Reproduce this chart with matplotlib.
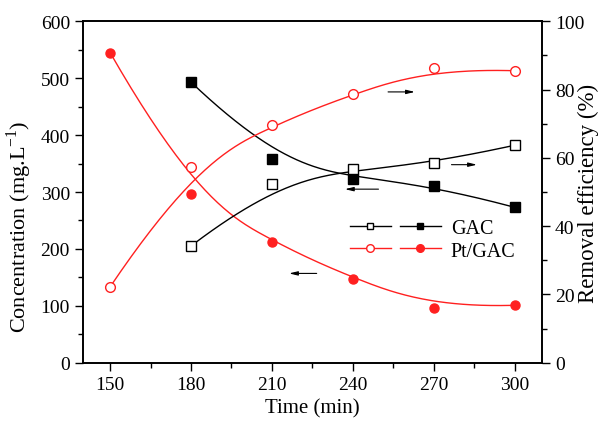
import numpy as np
import matplotlib.pyplot as plt
from matplotlib.legend_handler import HandlerTuple
from matplotlib.lines import Line2D

plt.rcParams['font.family'] = ['Liberation Serif', 'DejaVu Serif']
plt.rcParams['mathtext.fontset'] = 'custom'
plt.rcParams['mathtext.rm'] = 'Liberation Serif'

time_gac = [180, 210, 240, 270, 300]
conc_gac = [493, 358, 323, 311, 273]
remov_gac = [34.2, 52.2, 56.7, 58.5, 63.7]

time_pt = [150, 180, 210, 240, 270, 300]
conc_pt = [545, 297, 212, 148, 97, 101]
remov_pt = [22.2, 57.3, 69.5, 78.8, 86.2, 85.5]


def basis(i, k, u, t):
    if k == 0:
        if t[i] <= u < t[i + 1] or (u == t[-1] and t[i] < u <= t[i + 1]):
            return 1.0
        return 0.0
    a = 0.0
    if t[i + k] != t[i]:
        a = (u - t[i]) / (t[i + k] - t[i]) * basis(i, k - 1, u, t)
    b = 0.0
    if t[i + k + 1] != t[i + 1]:
        b = (t[i + k + 1] - u) / (t[i + k + 1] - t[i + 1]) * basis(i + 1, k - 1, u, t)
    return a + b


def bspline(x, y, deg=3):
    # clamped B-spline with the data points as control points (like Origin)
    n = len(x)
    knots = [0] * deg + list(range(n - deg + 1)) + [n - deg] * deg
    us = np.linspace(0, n - deg, 200)
    w = np.array([[basis(i, deg, u, knots) for i in range(n)] for u in us])
    return w @ np.array(x, float), w @ np.array(y, float)


fig = plt.figure(figsize=(6.02, 4.27), dpi=100)
ax = fig.add_axes([0.138, 0.148, 0.762, 0.8])
ax2 = ax.twinx()

red = '#ff2020'
ms = 6.5

xs, ys = bspline(time_gac, conc_gac)
ax.plot(xs, ys, color='k', lw=1)
ax.plot(time_gac, conc_gac, 's', color='k', ms=ms, ls='none')
xs, ys = bspline(time_pt, conc_pt)
ax.plot(xs, ys, color=red, lw=1)
ax.plot(time_pt, conc_pt, 'o', color=red, ms=ms, ls='none')

xs, ys = bspline(time_gac, remov_gac)
ax2.plot(xs, ys, color='k', lw=1)
ax2.plot(time_gac, remov_gac, 's', mfc='white', mec='k', ms=ms, ls='none')
xs, ys = bspline(time_pt, remov_pt)
ax2.plot(xs, ys, color=red, lw=1)
ax2.plot(time_pt, remov_pt, 'o', mfc='white', mec=red, ms=ms + 0.5, ls='none')

# arrows pointing to the axis each curve belongs to
arr = dict(arrowstyle='-|>,head_length=0.5,head_width=0.12', color='k', lw=0.8)
ax2.annotate('', xy=(264, 79.3), xytext=(252, 79.3), arrowprops=arr)
ax2.annotate('', xy=(287, 58), xytext=(275.5, 58), arrowprops=arr)
ax.annotate('', xy=(236, 305), xytext=(250.5, 305), arrowprops=arr)
ax.annotate('', xy=(215.3, 157), xytext=(227.6, 157), arrowprops=arr)

ax.set_xlim(140, 310)
ax.set_ylim(0, 600)
ax2.set_ylim(0, 100)
ax.set_xticks([150, 180, 210, 240, 270, 300])
ax.set_xticks(np.arange(165, 300, 30), minor=True)
ax.set_yticks(np.arange(0, 601, 100))
ax.set_yticks(np.arange(50, 600, 100), minor=True)
ax2.set_yticks(np.arange(0, 101, 20))
ax2.set_yticks(np.arange(10, 100, 20), minor=True)

for a in (ax, ax2):
    a.tick_params(which='major', length=6, width=1, labelsize=14, direction='out')
    a.tick_params(which='minor', length=3.5, width=1, direction='out')
    for s in a.spines.values():
        s.set_linewidth(1.2)
ax.tick_params(top=False)

ax.set_xlabel('Time (min)', fontsize=15)
ax.set_ylabel('Concentration (mg.L$^{\\mathregular{-1}}$)', fontsize=16)
ax.yaxis.set_label_coords(-0.107, 0.40)
ax2.set_ylabel('Removal efficiency (%)', fontsize=16.5)
ax2.yaxis.set_label_coords(1.078, 0.5)

lms = 4.5
h_go = Line2D([], [], color='k', lw=1, marker='s', mfc='white', mec='k', ms=lms)
h_gf = Line2D([], [], color='k', lw=1, marker='s', ms=lms)
h_po = Line2D([], [], color=red, lw=1, marker='o', mfc='white', mec=red, ms=lms + 1)
h_pf = Line2D([], [], color=red, lw=1, marker='o', ms=lms + 1)
ax.legend([(h_go, h_gf), (h_po, h_pf)], ['GAC', 'Pt/GAC'],
          handler_map={tuple: HandlerTuple(ndivide=None, pad=0.45)},
          handlelength=4.5, handletextpad=0.5, frameon=False, fontsize=14.5,
          loc='upper left', bbox_to_anchor=(0.582, 0.42), borderpad=0,
          borderaxespad=0, labelspacing=0.15)

fig.savefig('out.png', dpi=100)
